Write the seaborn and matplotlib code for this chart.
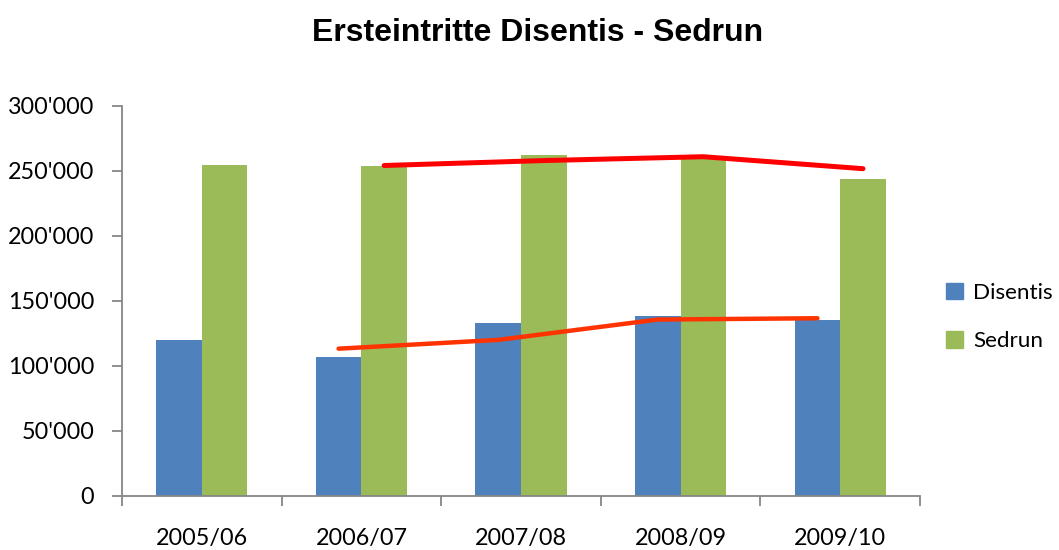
import matplotlib
matplotlib.use("Agg")
import matplotlib.pyplot as plt
import seaborn as sns
import pandas as pd
import numpy as np

# Chart data
years = ["2005/06", "2006/07", "2007/08", "2008/09", "2009/10"]
disentis = [119500, 106700, 133000, 138000, 135000]
sedrun = [254400, 253600, 262000, 259500, 243600]
series_names = ["Disentis", "Sedrun"]
series_colors = ["#4F81BD", "#9BBB59"]
trend_colors = ["#FF3300", "#FF0000"]

sns.set_style("white")
plt.rcParams["font.family"] = ["Lato", "DejaVu Sans"]
plt.rcParams["text.color"] = "black"

df = pd.DataFrame({
    "Jahr": years * 2,
    "Wert": disentis + sedrun,
    "Ort": [series_names[0]] * len(years) + [series_names[1]] * len(years),
})

fig = plt.figure(figsize=(10.59, 5.5), dpi=100)
ax = fig.add_axes([122 / 1059, 1 - 495.7 / 550, 798 / 1059, 390 / 550])

group_width = 0.571
sns.barplot(data=df, x="Jahr", y="Wert", hue="Ort", order=years,
            hue_order=series_names, palette=series_colors,
            width=group_width, gap=0, saturation=1, linewidth=0,
            ax=ax, legend=False)

# 2-period moving average trendlines, drawn at each series' bar centres
bar_w = group_width / 2
idx = np.arange(len(years))
for k, (vals, col) in enumerate(zip([disentis, sedrun], trend_colors)):
    ma = pd.Series(vals).rolling(2).mean()
    offset = (k - 0.5) * bar_w
    ax.plot(idx[1:] + offset, ma[1:], color=col,
            lw=3.2 if k == 0 else 3.6, solid_capstyle="round", zorder=5)

ax.set_xlim(-0.5, len(years) - 0.5)
ax.set_ylim(0, 300000)
ax.set_yticks(np.arange(0, 300001, 50000))
ax.set_yticklabels([f"{int(v):,}".replace(",", "'") for v in np.arange(0, 300001, 50000)])
ax.set_xlabel("")
ax.set_ylabel("")

# category boundary ticks on x, labels centred
ax.set_xticks(np.arange(-0.5, len(years), 1.0), minor=False)
ax.set_xticklabels([])
ax.set_xticks(idx, minor=True)
ax.set_xticklabels(years, minor=True)
ax.tick_params(axis="x", which="major", direction="out", length=7, width=1.3,
               color="#868686", bottom=True)
ax.tick_params(axis="x", which="minor", length=0, pad=23, labelsize=16.8,
               labelcolor="black")
ax.tick_params(axis="y", direction="out", length=7, width=1.3, color="#868686",
               left=True, pad=13, labelsize=16.8, labelcolor="black")

for side in ["top", "right"]:
    ax.spines[side].set_visible(False)
for side in ["left", "bottom"]:
    ax.spines[side].set_color("#868686")
    ax.spines[side].set_linewidth(1.3)

handles = [plt.Rectangle((0, 0), 1, 1, color=c) for c in series_colors]
fig.legend(handles, series_names, loc="center left",
           bbox_to_anchor=(946 / 1059, 1 - 317 / 550), frameon=False,
           borderpad=0, borderaxespad=0,
           handlelength=0.75, handleheight=0.75, handletextpad=0.45,
           labelspacing=1.25, fontsize=16.2)

fig.text(538 / 1059, 1 - 33 / 550, "Ersteintritte Disentis - Sedrun",
         ha="center", va="center", fontsize=23, fontweight="bold",
         color="black", family=["Liberation Sans", "DejaVu Sans"])

fig.savefig("out.png", dpi=100)
